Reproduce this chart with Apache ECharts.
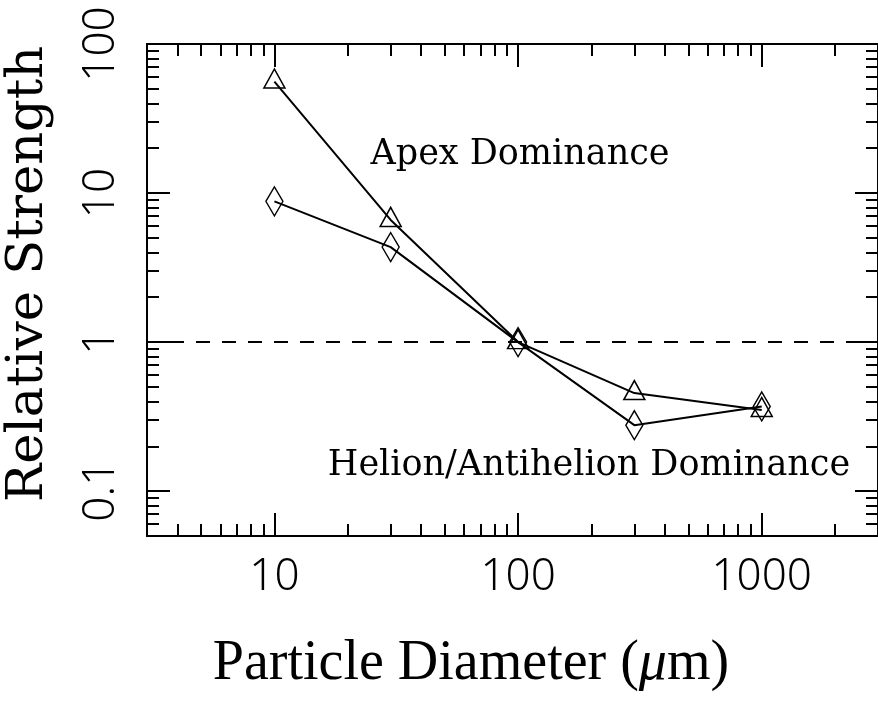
<!DOCTYPE html>
<html>
<head>
<meta charset="utf-8">
<script src="https://cdn.jsdelivr.net/npm/echarts@6/dist/echarts.min.js"></script>
<style>html,body{margin:0;padding:0;background:#fff}#c{width:878px;height:702px}</style>
</head>
<body>
<div id="c"></div>
<script>
// Data
const diameters = [10, 30, 100, 300, 1000];
const apexTriangle = [56, 6.6, 1.0, 0.455, 0.35];
const diamondSeries = [8.8, 4.34, 1.0, 0.277, 0.37];
const referenceLevel = 1;
const xMajorTicks = [10, 100, 1000];
const xMinorTicks = [3,4,5,6,7,8,9,20,30,40,50,60,70,80,90,200,300,400,500,600,700,800,900,2000,3000];
const yMajorTicks = [0.1, 1, 10, 100];
const yMinorTicks = [0.05,0.06,0.07,0.08,0.09,0.2,0.3,0.4,0.5,0.6,0.7,0.8,0.9,2,3,4,5,6,7,8,9,20,30,40,50,60,70,80,90];
const xLabel = 'Particle Diameter (';
const yLabel = 'Relative Strength';
const noteTop = 'Apex Dominance';
const noteBottom = 'Helion/Antihelion Dominance';

const chart = echarts.init(document.getElementById('c'), null, {renderer: 'canvas'});
const fmt = v => (v < 1 ? Number(v).toFixed(1) : String(Math.round(v)));
const lbl = {fontFamily: 'Noto Sans', fontWeight: 300, fontSize: 44, color: '#000'};

function xAx(pos, ticks, len, labels) {
  return {
    type: 'log', logBase: 10, min: 3, max: 3000, position: pos, gridIndex: 0,
    axisLine: {show: true, onZero: false, lineStyle: {color: '#000', width: 2}},
    axisTick: {show: true, inside: true, length: len, customValues: ticks, lineStyle: {color: '#000', width: 2}},
    axisLabel: labels ? Object.assign({show: true, customValues: xMajorTicks, margin: 19, formatter: fmt, showMinLabel: true, showMaxLabel: true}, lbl) : {show: false},
    splitLine: {show: false}, minorTick: {show: false}
  };
}
function yAx(pos, ticks, len, labels) {
  return {
    type: 'log', logBase: 10, min: 0.05, max: 100, position: pos, gridIndex: 0,
    axisLine: {show: true, onZero: false, lineStyle: {color: '#000', width: 2}},
    axisTick: {show: true, inside: true, length: len, customValues: ticks, lineStyle: {color: '#000', width: 2}},
    axisLabel: labels ? Object.assign({show: true, customValues: yMajorTicks, rotate: 90, margin: 24, formatter: fmt, showMinLabel: true, showMaxLabel: true}, lbl) : {show: false},
    splitLine: {show: false}, minorTick: {show: false}
  };
}

const option = {
  animation: false,
  backgroundColor: '#fff',
  grid: {left: 147, top: 44, width: 733, height: 492, containLabel: false},
  xAxis: [
    xAx('bottom', xMajorTicks, 23, true),
    xAx('bottom', xMinorTicks, 12, false),
    xAx('top', xMajorTicks, 23, false),
    xAx('top', xMinorTicks, 12, false)
  ],
  yAxis: [
    yAx('left', yMajorTicks, 23, true),
    yAx('left', yMinorTicks, 12, false),
    yAx('right', yMajorTicks, 23, false),
    yAx('right', yMinorTicks, 12, false)
  ],
  series: [
    {
      type: 'line', xAxisIndex: 0, yAxisIndex: 0, silent: true,
      data: diameters.map((d, i) => [d, apexTriangle[i]]),
      symbol: 'triangle', symbolSize: [21, 19], symbolOffset: [0, -3],
      itemStyle: {color: 'rgba(0,0,0,0)', borderColor: '#000', borderWidth: 1.5},
      lineStyle: {color: '#000', width: 2},
      emphasis: {disabled: true},
      markLine: {
        silent: true, symbol: ['none', 'none'], label: {show: false},
        lineStyle: {color: '#000', width: 2, type: [14, 12], dashOffset: 3},
        data: [{yAxis: referenceLevel}]
      }
    },
    {
      type: 'line', xAxisIndex: 0, yAxisIndex: 0, silent: true,
      data: diameters.map((d, i) => [d, diamondSeries[i]]),
      symbol: 'diamond', symbolSize: [17, 29],
      itemStyle: {color: 'rgba(0,0,0,0)', borderColor: '#000', borderWidth: 1.5},
      lineStyle: {color: '#000', width: 2},
      emphasis: {disabled: true}
    }
  ],
  graphic: [
    {type: 'text', x: 520, y: 155, style: {text: noteTop, font: '35px "DejaVu Serif"', fill: '#000', textAlign: 'center', textVerticalAlign: 'middle'}},
    {type: 'text', x: 589, y: 466, style: {text: noteBottom, font: '35px "DejaVu Serif"', fill: '#000', textAlign: 'center', textVerticalAlign: 'middle'}},
    {type: 'text', x: 29, y: 274, rotation: Math.PI / 2, style: {text: yLabel, font: '51px "DejaVu Serif"', fill: '#000', textAlign: 'center', textVerticalAlign: 'middle'}},
    {type: 'text', x: 471, y: 664, style: {
      text: '{a|' + xLabel + '}{i|μ}{a|m)}', textAlign: 'center', textVerticalAlign: 'middle',
      rich: {
        a: {fontFamily: 'Liberation Serif', fontSize: 56, color: '#000'},
        i: {fontFamily: 'Liberation Serif', fontStyle: 'italic', fontSize: 56, color: '#000'}
      }
    }}
  ]
};
chart.setOption(option);
</script>
</body>
</html>
